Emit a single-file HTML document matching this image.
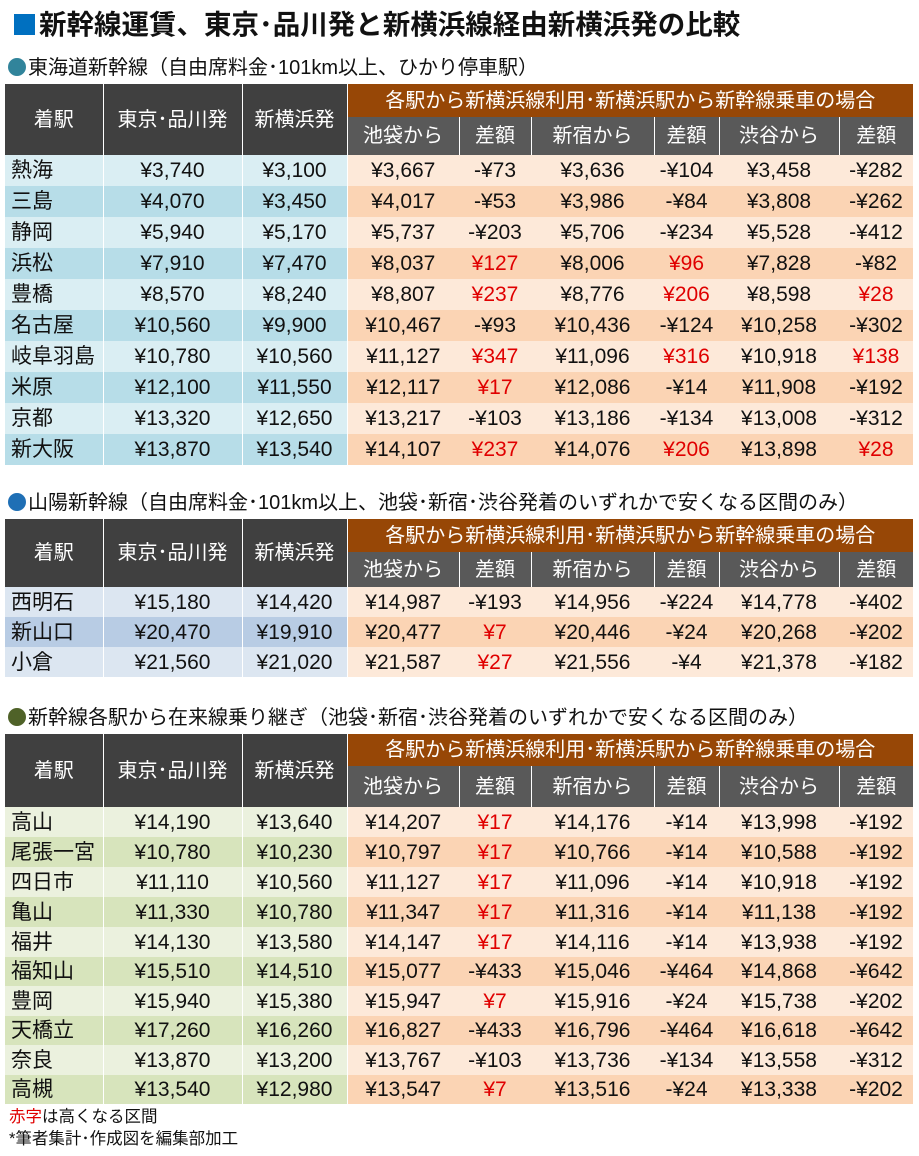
<!DOCTYPE html>
<html><head><meta charset="utf-8">
<style>
body{margin:0;width:919px;height:1156px;background:#fff;position:relative;overflow:hidden;font-family:"Liberation Sans","Noto Sans CJK JP",sans-serif;color:#111}
.t{position:absolute;left:5px;border-collapse:collapse;table-layout:fixed;font-size:21px;line-height:1}
.t td{padding:0;text-align:center;white-space:nowrap;overflow:hidden;vertical-align:middle}
.t td:first-child{text-align:left;padding-left:6px}
.h1 td{background:#404040;color:#fff;border-right:1px solid #fff;font-size:20px}
.h1 td.br{background:#974706;border:none;text-align:center;padding:0}
.h2 td{background:#595959;color:#fff;border-right:1px solid #fff;text-align:center!important;padding:0!important;font-size:20px}
.h2 td:last-child{border-right:none}
.t tr.r td{border-right:1px solid #fff}
.t tr.r td:nth-child(n+4){border-right:none}
.t1 tr.a td:nth-child(-n+3){background:#daeef3}
.t1 tr.b td:nth-child(-n+3){background:#b7dde8}
.t2 tr.a td:nth-child(-n+3){background:#dce6f1}
.t2 tr.b td:nth-child(-n+3){background:#b8cce4}
.t3 tr.a td:nth-child(-n+3){background:#ebf1de}
.t3 tr.b td:nth-child(-n+3){background:#d7e4bc}
tr.a td:nth-child(n+4){background:#fde9d9}
tr.b td:nth-child(n+4){background:#fbd4b4}
.red{color:#e00000}
.title{position:absolute;left:14px;top:8px;font-size:27.5px;font-weight:bold;line-height:34px}
.sq{display:inline-block;width:21px;height:21px;background:#0070c0;margin-right:4px;vertical-align:-1px}
.sec{position:absolute;left:8px;font-size:20px;line-height:24px;white-space:nowrap}
.dot{display:inline-block;width:18px;height:18px;border-radius:50%;margin-right:2px;vertical-align:-2px}
</style></head><body>
<div class="title"><span class="sq"></span>新幹線運賃、東京･品川発と新横浜線経由新横浜発の比較</div>
<div class="sec" style="top:56px"><span class="dot" style="background:#31849b"></span>東海道新幹線（自由席料金･101km以上、ひかり停車駅）</div>
<table class="t t1" style="top:84px">
<colgroup><col style="width:98px"><col style="width:139px"><col style="width:105px"><col style="width:112px"><col style="width:72px"><col style="width:123px"><col style="width:65px"><col style="width:120px"><col style="width:74px"></colgroup>
<tr class="h1" style="height:33px"><td rowspan="2" style="text-align:center;padding:0">着駅</td><td rowspan="2">東京･品川発</td><td rowspan="2">新横浜発</td><td colspan="6" class="br">各駅から新横浜線利用･新横浜駅から新幹線乗車の場合</td></tr>
<tr class="h2" style="height:38px"><td>池袋から</td><td>差額</td><td>新宿から</td><td>差額</td><td>渋谷から</td><td>差額</td></tr>
<tr class="r a" style="height:31px"><td>熱海</td><td>¥3,740</td><td>¥3,100</td><td>¥3,667</td><td>-¥73</td><td>¥3,636</td><td>-¥104</td><td>¥3,458</td><td>-¥282</td></tr>
<tr class="r b" style="height:31px"><td>三島</td><td>¥4,070</td><td>¥3,450</td><td>¥4,017</td><td>-¥53</td><td>¥3,986</td><td>-¥84</td><td>¥3,808</td><td>-¥262</td></tr>
<tr class="r a" style="height:31px"><td>静岡</td><td>¥5,940</td><td>¥5,170</td><td>¥5,737</td><td>-¥203</td><td>¥5,706</td><td>-¥234</td><td>¥5,528</td><td>-¥412</td></tr>
<tr class="r b" style="height:31px"><td>浜松</td><td>¥7,910</td><td>¥7,470</td><td>¥8,037</td><td class="red">¥127</td><td>¥8,006</td><td class="red">¥96</td><td>¥7,828</td><td>-¥82</td></tr>
<tr class="r a" style="height:31px"><td>豊橋</td><td>¥8,570</td><td>¥8,240</td><td>¥8,807</td><td class="red">¥237</td><td>¥8,776</td><td class="red">¥206</td><td>¥8,598</td><td class="red">¥28</td></tr>
<tr class="r b" style="height:31px"><td>名古屋</td><td>¥10,560</td><td>¥9,900</td><td>¥10,467</td><td>-¥93</td><td>¥10,436</td><td>-¥124</td><td>¥10,258</td><td>-¥302</td></tr>
<tr class="r a" style="height:31px"><td>岐阜羽島</td><td>¥10,780</td><td>¥10,560</td><td>¥11,127</td><td class="red">¥347</td><td>¥11,096</td><td class="red">¥316</td><td>¥10,918</td><td class="red">¥138</td></tr>
<tr class="r b" style="height:31px"><td>米原</td><td>¥12,100</td><td>¥11,550</td><td>¥12,117</td><td class="red">¥17</td><td>¥12,086</td><td>-¥14</td><td>¥11,908</td><td>-¥192</td></tr>
<tr class="r a" style="height:31px"><td>京都</td><td>¥13,320</td><td>¥12,650</td><td>¥13,217</td><td>-¥103</td><td>¥13,186</td><td>-¥134</td><td>¥13,008</td><td>-¥312</td></tr>
<tr class="r b" style="height:31px"><td>新大阪</td><td>¥13,870</td><td>¥13,540</td><td>¥14,107</td><td class="red">¥237</td><td>¥14,076</td><td class="red">¥206</td><td>¥13,898</td><td class="red">¥28</td></tr>
</table>

<div class="sec" style="top:491px"><span class="dot" style="background:#1f6fb5"></span>山陽新幹線（自由席料金･101km以上、池袋･新宿･渋谷発着のいずれかで安くなる区間のみ）</div>
<table class="t t2" style="top:519px">
<colgroup><col style="width:98px"><col style="width:139px"><col style="width:105px"><col style="width:112px"><col style="width:72px"><col style="width:123px"><col style="width:65px"><col style="width:120px"><col style="width:74px"></colgroup>
<tr class="h1" style="height:33px"><td rowspan="2" style="text-align:center;padding:0">着駅</td><td rowspan="2">東京･品川発</td><td rowspan="2">新横浜発</td><td colspan="6" class="br">各駅から新横浜線利用･新横浜駅から新幹線乗車の場合</td></tr>
<tr class="h2" style="height:35px"><td>池袋から</td><td>差額</td><td>新宿から</td><td>差額</td><td>渋谷から</td><td>差額</td></tr>
<tr class="r a" style="height:30px"><td>西明石</td><td>¥15,180</td><td>¥14,420</td><td>¥14,987</td><td>-¥193</td><td>¥14,956</td><td>-¥224</td><td>¥14,778</td><td>-¥402</td></tr>
<tr class="r b" style="height:30px"><td>新山口</td><td>¥20,470</td><td>¥19,910</td><td>¥20,477</td><td class="red">¥7</td><td>¥20,446</td><td>-¥24</td><td>¥20,268</td><td>-¥202</td></tr>
<tr class="r a" style="height:30px"><td>小倉</td><td>¥21,560</td><td>¥21,020</td><td>¥21,587</td><td class="red">¥27</td><td>¥21,556</td><td>-¥4</td><td>¥21,378</td><td>-¥182</td></tr>
</table>

<div class="sec" style="top:706px"><span class="dot" style="background:#4f6228"></span>新幹線各駅から在来線乗り継ぎ（池袋･新宿･渋谷発着のいずれかで安くなる区間のみ）</div>
<table class="t t3" style="top:734px">
<colgroup><col style="width:98px"><col style="width:139px"><col style="width:105px"><col style="width:112px"><col style="width:72px"><col style="width:123px"><col style="width:65px"><col style="width:120px"><col style="width:74px"></colgroup>
<tr class="h1" style="height:32px"><td rowspan="2" style="text-align:center;padding:0">着駅</td><td rowspan="2">東京･品川発</td><td rowspan="2">新横浜発</td><td colspan="6" class="br">各駅から新横浜線利用･新横浜駅から新幹線乗車の場合</td></tr>
<tr class="h2" style="height:41px"><td>池袋から</td><td>差額</td><td>新宿から</td><td>差額</td><td>渋谷から</td><td>差額</td></tr>
<tr class="r a" style="height:30px"><td>高山</td><td>¥14,190</td><td>¥13,640</td><td>¥14,207</td><td class="red">¥17</td><td>¥14,176</td><td>-¥14</td><td>¥13,998</td><td>-¥192</td></tr>
<tr class="r b" style="height:30px"><td>尾張一宮</td><td>¥10,780</td><td>¥10,230</td><td>¥10,797</td><td class="red">¥17</td><td>¥10,766</td><td>-¥14</td><td>¥10,588</td><td>-¥192</td></tr>
<tr class="r a" style="height:30px"><td>四日市</td><td>¥11,110</td><td>¥10,560</td><td>¥11,127</td><td class="red">¥17</td><td>¥11,096</td><td>-¥14</td><td>¥10,918</td><td>-¥192</td></tr>
<tr class="r b" style="height:30px"><td>亀山</td><td>¥11,330</td><td>¥10,780</td><td>¥11,347</td><td class="red">¥17</td><td>¥11,316</td><td>-¥14</td><td>¥11,138</td><td>-¥192</td></tr>
<tr class="r a" style="height:30px"><td>福井</td><td>¥14,130</td><td>¥13,580</td><td>¥14,147</td><td class="red">¥17</td><td>¥14,116</td><td>-¥14</td><td>¥13,938</td><td>-¥192</td></tr>
<tr class="r b" style="height:29px"><td>福知山</td><td>¥15,510</td><td>¥14,510</td><td>¥15,077</td><td>-¥433</td><td>¥15,046</td><td>-¥464</td><td>¥14,868</td><td>-¥642</td></tr>
<tr class="r a" style="height:30px"><td>豊岡</td><td>¥15,940</td><td>¥15,380</td><td>¥15,947</td><td class="red">¥7</td><td>¥15,916</td><td>-¥24</td><td>¥15,738</td><td>-¥202</td></tr>
<tr class="r b" style="height:29px"><td>天橋立</td><td>¥17,260</td><td>¥16,260</td><td>¥16,827</td><td>-¥433</td><td>¥16,796</td><td>-¥464</td><td>¥16,618</td><td>-¥642</td></tr>
<tr class="r a" style="height:30px"><td>奈良</td><td>¥13,870</td><td>¥13,200</td><td>¥13,767</td><td>-¥103</td><td>¥13,736</td><td>-¥134</td><td>¥13,558</td><td>-¥312</td></tr>
<tr class="r b" style="height:29px"><td>高槻</td><td>¥13,540</td><td>¥12,980</td><td>¥13,547</td><td class="red">¥7</td><td>¥13,516</td><td>-¥24</td><td>¥13,338</td><td>-¥202</td></tr>
</table>
<div style="position:absolute;left:9px;top:1106px;font-size:16.5px;line-height:22px"><span class="red">赤字</span>は高くなる区間<br>*筆者集計･作成図を編集部加工</div>
</body></html>
